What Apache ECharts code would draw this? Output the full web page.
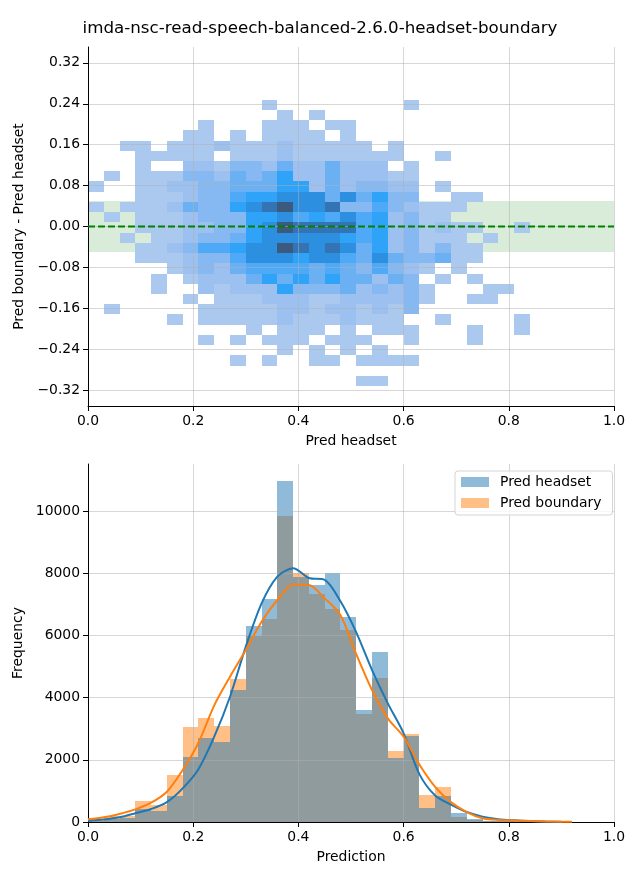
<!DOCTYPE html>
<html><head><meta charset="utf-8">
<script src="https://cdn.jsdelivr.net/npm/echarts@6/dist/echarts.min.js"></script>
<style>html,body{margin:0;padding:0;background:#fff}#c{width:640px;height:880px}</style>
</head><body><div id="c"></div><script>
const titleText = 'imda-nsc-read-speech-balanced-2.6.0-headset-boundary';

// ---- 2D histogram (Pred headset vs. Pred boundary - Pred headset) ----
const cellBinWidth = 0.03;      // x bin width
const cellBinHeight = 0.02;     // y bin height
const cellTopRowLow = 0.228;    // lower edge of first (top) row
// one string per row (top -> bottom), one char per x bin: '.' empty, 1..9 density level
const cellRows = [
  "...........1........1.......",
  "............1.1.............",
  ".......1...111.11...........",
  "......11.1.1111.1...........",
  "..11.1112111211111.1........",
  "...11111.11121111111..1.....",
  "...1..2213324224222.1.......",
  ".1.111332434622422211.......",
  "1..112233444662423322.1.....",
  "...111233566777474633..11...",
  "1.1112433678977833532111....",
  ".1.11123336675657562311.....",
  "...1112233679888856231211..1",
  "..1.11233467777765623111.1..",
  "...1123556779878746231311...",
  "...1112335777677547433411...",
  ".....12324555545435321.1....",
  "....1.122246464644243.1.1...",
  "....1..212226333423231...11.",
  "......1.11122211222231..11..",
  ".1.....11111221221213.......",
  ".....1.1111121112111..1....1",
  "..........1.111.1.111...1..1",
  ".......1.1.111.111..1...1...",
  "............1.1.1.1.........",
  ".........1.1..11.1111.......",
  "............................",
  ".................11........."
];
const bandLow = -0.05, bandHigh = 0.05;
const heatXTicks = [0, 0.2, 0.4, 0.6, 0.8, 1.0];
const heatYTicks = [-0.32, -0.24, -0.16, -0.08, 0, 0.08, 0.16, 0.24, 0.32];
const heatYMin = -0.351, heatYMax = 0.351;

// ---- 1D histograms ----
const histBinWidth = 0.03;
const headsetCounts  = [43, 86, 118, 407, 354, 836, 2101, 2712, 2584, 4245, 6303, 7172, 10967, 7868, 7622, 7997, 6593, 3602, 5467, 2069, 2766, 461, 847, 300, 96, 40, 25, 12, 6, 0, 0];
const boundaryCounts = [64, 190, 200, 675, 547, 1512, 3045, 3334, 3087, 4588, 5993, 6528, 9841, 7997, 7332, 6850, 6175, 3473, 4631, 2283, 2830, 868, 1126, 172, 75, 45, 30, 20, 14, 10, 6];
const kdeX        = [0, 0.03, 0.06, 0.09, 0.12, 0.15, 0.18, 0.21, 0.24, 0.27, 0.30, 0.33, 0.36, 0.39, 0.42, 0.45, 0.48, 0.51, 0.54, 0.57, 0.60, 0.63, 0.66, 0.69, 0.72, 0.75, 0.78, 0.81, 0.84, 0.87, 0.90, 0.92];
const kdeHeadset  = [43, 80, 150, 280, 420, 640, 1083, 1700, 2744, 4030, 5640, 7030, 7890, 8158, 7850, 7790, 7100, 6100, 4888, 3816, 2852, 1540, 850, 560, 320, 170, 90, 54, 30, 15, 8, null];
const kdeBoundary = [86, 150, 260, 407, 622, 975, 1672, 2550, 3750, 4674, 5532, 6443, 7140, 7640, 7622, 7193, 6650, 5400, 4245, 3334, 2744, 1850, 1130, 640, 320, 120, 64, 50, 32, 20, 12, 5];
const histXTicks = [0, 0.2, 0.4, 0.6, 0.8, 1.0];
const histYTicks = [0, 2000, 4000, 6000, 8000, 10000];
const histYMax = 11515;

// ---- build data ----
const cellData = [];
cellRows.forEach((row, r) => {
  const yLow = cellTopRowLow - r * cellBinHeight;
  for (let c = 0; c < row.length; c++) {
    const ch = row[c];
    if (ch !== '.') cellData.push([c * cellBinWidth, yLow, (c + 1) * cellBinWidth, yLow + cellBinHeight, Number(ch)]);
  }
});
const histData = counts => counts.map((v, i) => [i * histBinWidth, (i + 1) * histBinWidth, v]);
const kdeData = vals => kdeX.map((x, i) => vals[i] == null ? null : [x, vals[i]]).filter(d => d);

const FONT = 'DejaVu Sans';
const txt = {fontFamily: FONT, fontSize: 13.9, color: '#000'};
const gridLine = {show: true, lineStyle: {color: 'rgba(176,176,176,0.5)', width: 1}};
const minus = s => s.replace('-', '\u2212');

function rectItem(api, x0, y0, x1, y1, fill) {
  const a = api.coord([x0, y1]), b = api.coord([x1, y0]);
  const X0 = Math.round(a[0]), Y0 = Math.round(a[1]), X1 = Math.round(b[0]), Y1 = Math.round(b[1]);
  return {type: 'rect', shape: {x: X0, y: Y0, width: X1 - X0, height: Y1 - Y0}, style: {fill: fill}};
}

const chart = echarts.init(document.getElementById('c'), null, {renderer: 'canvas'});
chart.setOption({
  animation: false,
  backgroundColor: '#fff',
  title: {text: titleText, left: 'center', top: 15, textStyle: {fontFamily: FONT, fontSize: 16.7, fontWeight: 'normal', color: '#000'}},
  legend: {
    data: [{name: 'Pred headset', icon: 'rect'}, {name: 'Pred boundary', icon: 'rect'}],
    orient: 'vertical', left: 455, top: 471, itemWidth: 28, itemHeight: 10, itemGap: 7,
    padding: [4, 11, 5, 6], borderColor: '#d5d5d5', borderWidth: 1, borderRadius: 3,
    backgroundColor: 'rgba(255,255,255,0.8)',
    textStyle: {fontFamily: FONT, fontSize: 13.9, color: '#000', padding: [0, 0, 0, 6]}
  },
  grid: [
    {left: 88, right: 26, top: 47, height: 359},
    {left: 88, right: 26, top: 464, height: 358}
  ],
  visualMap: {type: 'continuous', show: false, seriesIndex: 1, dimension: 4, min: 1, max: 9,
    inRange: {color: ['#abc8ee', '#9cc1f0', '#86b8f2', '#6cb0f4', '#4ea9f6', '#2fa3f7', '#2d8fe0', '#3474b4', '#3c5a7e']}},
  xAxis: [
    {gridIndex: 0, type: 'value', min: 0, max: 1, z: 3,
     axisLine: {onZero: false, lineStyle: {color: '#000', width: 1}},
     axisTick: {length: 5, customValues: heatXTicks, lineStyle: {color: '#000'}},
     axisLabel: Object.assign({customValues: heatXTicks, margin: 8, formatter: v => v.toFixed(1)}, txt),
     splitLine: gridLine,
     name: 'Pred headset', nameLocation: 'middle', nameGap: 28, nameTextStyle: txt},
    {gridIndex: 1, type: 'value', min: 0, max: 1, z: 3,
     axisLine: {onZero: false, lineStyle: {color: '#000', width: 1}},
     axisTick: {length: 5, customValues: histXTicks, lineStyle: {color: '#000'}},
     axisLabel: Object.assign({customValues: histXTicks, margin: 8, formatter: v => v.toFixed(1)}, txt),
     splitLine: gridLine,
     name: 'Prediction', nameLocation: 'middle', nameGap: 28, nameTextStyle: txt}
  ],
  yAxis: [
    {gridIndex: 0, type: 'value', min: heatYMin, max: heatYMax, z: 3,
     axisLine: {onZero: false, lineStyle: {color: '#000', width: 1}},
     axisTick: {length: 5, customValues: heatYTicks, lineStyle: {color: '#000'}},
     axisLabel: Object.assign({customValues: heatYTicks, margin: 8, formatter: v => minus(v.toFixed(2))}, txt),
     splitLine: gridLine,
     name: 'Pred boundary - Pred headset', nameLocation: 'middle', nameGap: 56, nameTextStyle: txt},
    {gridIndex: 1, type: 'value', min: 0, max: histYMax, z: 3,
     axisLine: {onZero: false, lineStyle: {color: '#000', width: 1}},
     axisTick: {length: 5, customValues: histYTicks, lineStyle: {color: '#000'}},
     axisLabel: Object.assign({customValues: histYTicks, margin: 8, formatter: v => String(Math.round(v))}, txt),
     splitLine: gridLine,
     name: 'Frequency', nameLocation: 'middle', nameGap: 56, nameTextStyle: txt}
  ],
  series: [
    {type: 'line', name: 'band', xAxisIndex: 0, yAxisIndex: 0, z: 1, silent: true, data: [],
     markArea: {silent: true, itemStyle: {color: 'rgba(0,128,0,0.15)'},
       data: [[{coord: [0, bandLow]}, {coord: [1, bandHigh]}]]}},
    {type: 'custom', name: 'cells', xAxisIndex: 0, yAxisIndex: 0, z: 2, data: cellData,
     encode: {x: [0, 2], y: [1, 3]},
     renderItem: (p, api) => rectItem(api, api.value(0), api.value(1), api.value(2), api.value(3), api.visual('color'))},
    {type: 'line', name: 'zero', xAxisIndex: 0, yAxisIndex: 0, z: 6, silent: true, symbol: 'none',
     data: [[0, 0], [1, 0]], lineStyle: {color: '#008000', width: 2, type: [7, 3]}},
    {type: 'custom', name: 'Pred boundary', xAxisIndex: 1, yAxisIndex: 1, z: 2,
     itemStyle: {color: 'rgba(255,127,14,0.5)'}, data: histData(boundaryCounts), encode: {x: [0, 1], y: 2},
     renderItem: (p, api) => rectItem(api, api.value(0), 0, api.value(1), api.value(2), api.visual('color'))},
    {type: 'custom', name: 'Pred headset', xAxisIndex: 1, yAxisIndex: 1, z: 2,
     itemStyle: {color: 'rgba(31,119,180,0.5)'}, data: histData(headsetCounts), encode: {x: [0, 1], y: 2},
     renderItem: (p, api) => rectItem(api, api.value(0), 0, api.value(1), api.value(2), api.visual('color'))},
    {type: 'line', name: 'kde headset', xAxisIndex: 1, yAxisIndex: 1, z: 6, symbol: 'none', smooth: 0.3,
     data: kdeData(kdeHeadset), lineStyle: {color: '#1f77b4', width: 2}, itemStyle: {color: '#1f77b4'}},
    {type: 'line', name: 'kde boundary', xAxisIndex: 1, yAxisIndex: 1, z: 6, symbol: 'none', smooth: 0.3,
     data: kdeData(kdeBoundary), lineStyle: {color: '#ff7f0e', width: 2}, itemStyle: {color: '#ff7f0e'}}
  ]
});
</script></body></html>
